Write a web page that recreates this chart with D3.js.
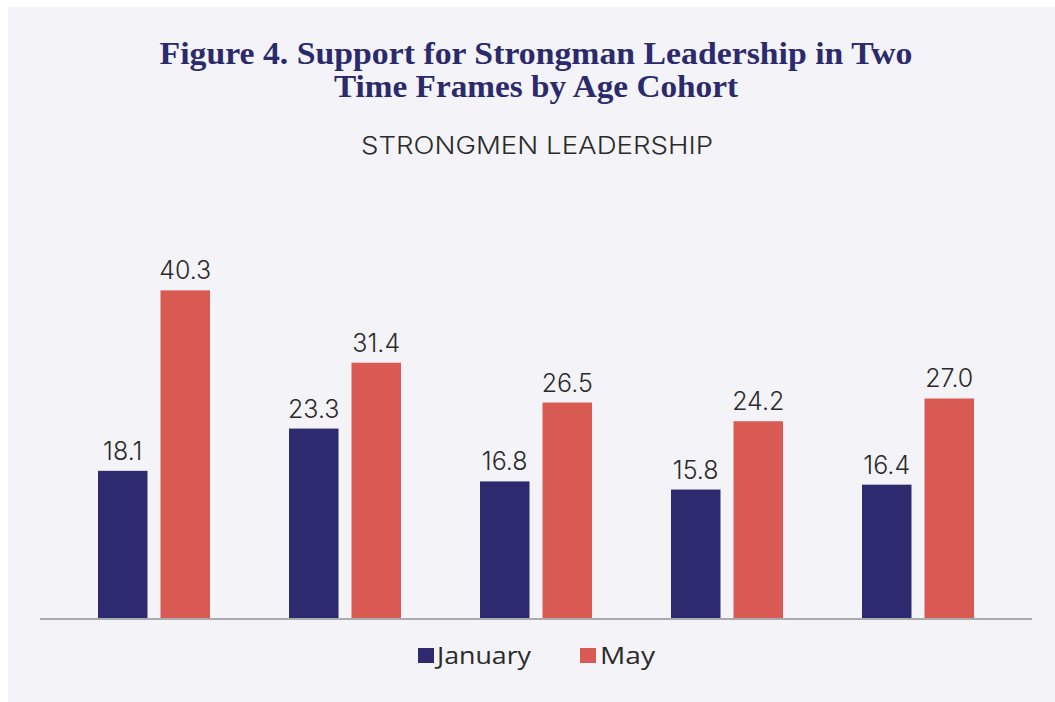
<!DOCTYPE html>
<html>
<head>
<meta charset="utf-8">
<script src="https://cdn.jsdelivr.net/npm/d3@7"></script>
<style>
  html, body { margin: 0; padding: 0; background: #ffffff; }
  svg { display: block; }
</style>
</head>
<body>
<svg id="chart" width="1055" height="702"></svg>
<script>
// Age cohorts (unlabelled in the figure) and survey waves
const cohorts = ["c1", "c2", "c3", "c4", "c5"];
const series = ["January", "May"];
const january = [18.1, 23.3, 16.8, 15.8, 16.4];
const may = [40.3, 31.4, 26.5, 24.2, 27.0];
const colors = ["#2d2a70", "#d95a52"];

const titleLines = [
  "Figure 4. Support for Strongman Leadership in Two",
  "Time Frames by Age Cohort"
];
const subtitle = "STRONGMEN LEADERSHIP";

const svg = d3.select("#chart");
const W = 1055, H = 702;

// panel background
svg.append("rect")
  .attr("x", 8).attr("y", 7)
  .attr("width", W - 8).attr("height", H - 7)
  .attr("fill", "#f4f4f8");

// title, two centred lines squeezed to a condensed look
const title = svg.append("g");
const titleWidths = [753, 404];
titleLines.forEach((t, i) => {
  title.append("text")
    .attr("x", 536).attr("y", 64 + i * 33)
    .attr("text-anchor", "middle")
    .attr("font-family", "'Liberation Serif', serif")
    .attr("font-weight", "bold")
    .attr("font-size", 31)
    .attr("fill", "#2b2a6c")
    .attr("textLength", titleWidths[i])
    .attr("lengthAdjust", "spacingAndGlyphs")
    .text(t);
});

svg.append("text")
  .attr("x", 537).attr("y", 154)
  .attr("text-anchor", "middle")
  .attr("font-family", "Inter, 'Noto Sans', sans-serif")
  .attr("font-weight", 300)
  .attr("font-size", 24)
  .attr("fill", "#2a2a2a")
  .attr("textLength", 352)
  .attr("lengthAdjust", "spacingAndGlyphs")
  .text(subtitle);

// scales
const baseline = 618;
const y = d3.scaleLinear().domain([0, 45]).range([baseline, baseline - 45 * 8.13]);
const x0 = d3.scaleBand().domain(cohorts).range([98, 974]).paddingInner((191 - 112) / 191).paddingOuter(0);
const x1 = d3.scaleBand().domain(series).range([0, x0.bandwidth()]).paddingInner(0.208);

const data = cohorts.map((c, i) => ({ cohort: c, values: [january[i], may[i]] }));

const groups = svg.append("g").selectAll("g")
  .data(data).join("g")
  .attr("transform", d => `translate(${x0(d.cohort)},0)`);

groups.selectAll("rect")
  .data(d => d.values.map((v, j) => ({ key: series[j], value: v, j })))
  .join("rect")
  .attr("x", d => x1(d.key))
  .attr("y", d => y(d.value))
  .attr("width", x1.bandwidth())
  .attr("height", d => y(0) - y(d.value))
  .attr("fill", d => colors[d.j]);

groups.selectAll("text")
  .data(d => d.values.map((v, j) => ({ key: series[j], value: v })))
  .join("text")
  .attr("x", d => x1(d.key) + x1.bandwidth() / 2)
  .attr("y", d => y(d.value) - 11)
  .attr("text-anchor", "middle")
  .attr("font-family", "Inter, 'Noto Sans', sans-serif")
  .attr("font-weight", 300)
  .attr("font-size", 25)
  .attr("fill", "#2a2a2a")
  .text(d => d3.format(".1f")(d.value));

// baseline axis
svg.append("line")
  .attr("x1", 40).attr("x2", 1032)
  .attr("y1", baseline + 1).attr("y2", baseline + 1)
  .attr("stroke", "#ababab")
  .attr("stroke-width", 2);

// legend
const legend = svg.append("g");
const legendItems = [
  { label: "January", sq: 418, tx: 437, w: 94 },
  { label: "May", sq: 580, tx: 600, w: 55 }
];
legendItems.forEach((it, i) => {
  legend.append("rect")
    .attr("x", it.sq).attr("y", 648)
    .attr("width", 16).attr("height", 15)
    .attr("fill", colors[i]);
  legend.append("text")
    .attr("x", it.tx).attr("y", 664)
    .attr("font-family", "'Open Sans', sans-serif")
    .attr("font-size", 24)
    .attr("fill", "#2a2a2a")
    .attr("textLength", it.w)
    .attr("lengthAdjust", "spacingAndGlyphs")
    .text(it.label);
});
</script>
</body>
</html>
